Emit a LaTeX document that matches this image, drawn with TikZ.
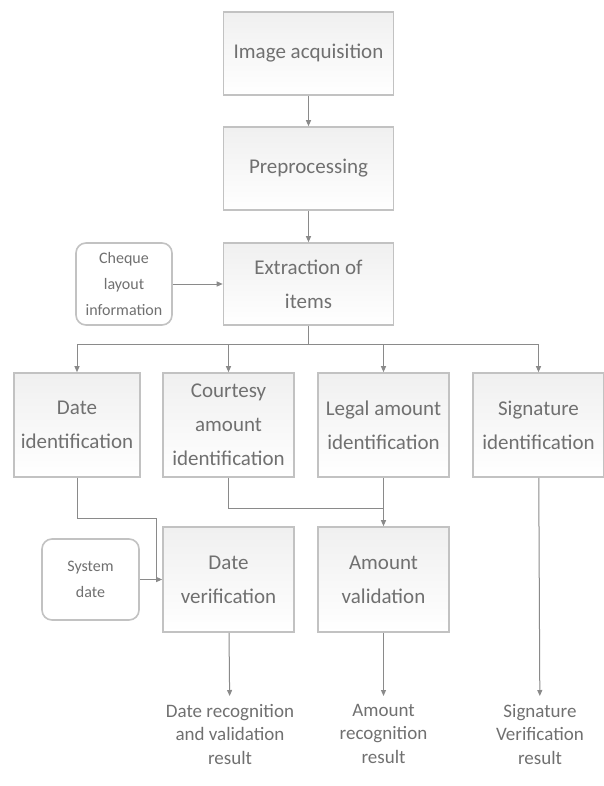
\documentclass[tikz,border=0pt]{standalone}
\usepackage{fontspec}
\setmainfont{Carlito}
\usetikzlibrary{arrows.meta}
\definecolor{txtgray}{HTML}{707070}
\definecolor{boxline}{HTML}{C2C2C2}
\definecolor{wiregray}{HTML}{8A8A8A}
\begin{document}
\begin{tikzpicture}[x=1pt, y=-1pt,
  every node/.style={text=txtgray, align=center, inner sep=0pt},
  stage/.style={draw=boxline, line width=1.6pt, top color=black!6, bottom color=white,
    minimum width=170pt, minimum height=83pt, font=\fontsize{21}{34}\selectfont},
  infobox/.style={draw=boxline, line width=1.6pt, rounded corners=10pt, fill=white,
    font=\fontsize{16}{26}\selectfont},
  result/.style={anchor=north, inner ysep=8pt, font=\fontsize{19}{23.5}\selectfont},
  link/.style={draw=wiregray, line width=1pt},
  wire/.style={link, -{Triangle[length=6pt,width=5pt]}}]
  \useasboundingbox (0,0) rectangle (604,786);
  % main chain
  \node[stage] (acq) at (308.5,53.5) {Image acquisition};
  \node[stage] (prep) at (308.5,168.5) {Preprocessing};
  \node[stage, minimum height=82pt] (extr) at (308.5,284) {Extraction of\\items};
  \node[infobox, minimum width=96pt, minimum height=82pt] (layout) at (124,284) {Cheque\\layout\\information};
  % identified items
  \foreach \n/\cx/\w/\t in {dateid/77/126/{Date\\identification},
      courtid/228.5/131/{Courtesy\\amount\\identification},
      legalid/383.5/131/{Legal amount\\identification},
      sigid/538.5/131/{Signature\\identification}} {
    \node[stage, minimum width=\w pt, minimum height=104pt] (\n) at (\cx,425) {\t};
  }
  \node[stage, minimum width=131pt, minimum height=105pt] (datever) at (228.5,579.5) {Date\\verification};
  \node[stage, minimum width=131pt, minimum height=105pt] (amtval) at (383.5,579.5) {Amount\\validation};
  \node[infobox, minimum width=97pt, minimum height=81pt] (sysdate) at (90.5,579.5) {System\\date};
  % results
  \node[result] (dres) at (230,696) {Date recognition\\and validation\\result};
  \node[result] (ares) at (383.5,696) {Amount\\recognition\\result};
  \node[result] (sres) at (540,696) {Signature\\Verification\\result};
  % connectors
  \draw[wire] (acq) -- (prep);
  \draw[wire] (prep) -- (extr);
  \draw[wire] (layout) -- (extr);
  \coordinate (split) at (308.5,344);
  \draw[link] (extr) -- (split);
  \draw[link] (split -| dateid) -- (split -| sigid);
  \foreach \n in {dateid,courtid,legalid,sigid}
    \draw[wire] (split -| \n) -- (\n);
  \coordinate (dbend) at (156,518);
  \draw[link] (dateid) |- (dbend) -- (dbend |- sysdate);
  \draw[wire] (sysdate) -- (datever);
  \coordinate (cbend) at (383.5,508);
  \draw[link] (courtid) |- (cbend);
  \draw[wire] (legalid) -- (amtval);
  \draw[wire] (datever) -- (dres);
  \draw[wire] (amtval) -- (ares);
  \draw[wire] (sigid) -- (sres);
\end{tikzpicture}
\end{document}
